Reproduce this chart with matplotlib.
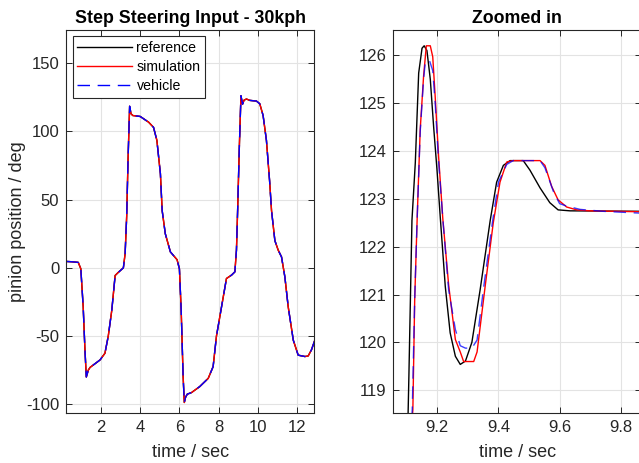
import matplotlib
matplotlib.use("Agg")
import matplotlib.pyplot as plt

# overview (left panel)
t_all = [0.23, 0.5, 0.84, 0.97, 1.09, 1.18, 1.25, 1.35, 1.44, 1.95, 2.2, 2.37, 2.55, 2.72,
         2.89, 3.14, 3.23, 3.31, 3.38, 3.46, 3.53, 3.62, 4.0, 4.43, 4.68, 4.85, 5.03, 5.12,
         5.28, 5.54, 5.88, 6.0, 6.09, 6.19, 6.25, 6.31, 6.4, 6.62, 7.04, 7.47, 7.72, 7.89,
         8.15, 8.4, 8.66, 8.83, 8.91, 8.97, 9.06, 9.14, 9.22, 9.3, 9.42, 9.59, 9.93, 10.1,
         10.27, 10.44, 10.6, 10.7, 10.87, 11.04, 11.21, 11.38, 11.55, 11.81, 12.06, 12.4,
         12.57, 12.74, 12.91]
ref_all = [4.7, 4.5, 4.0, -0.7, -28.5, -60, -80, -75, -73, -67.5, -62.6, -50, -31, -5.6,
           -3.2, 0, 10.5, 38, 80, 118.5, 113, 111.7, 111, 106.8, 103, 93.5, 69, 42,
           25, 11.7, 6, -0.7, -31, -80, -98.7, -95, -92.6, -91.4, -87, -81, -72.4, -50,
           -28.5, -7.8, -5.3, -2.9, 13, 42, 90, 126.2, 120, 123, 123.8, 122.8, 122.3, 120.3,
           111.7, 93.4, 64, 42, 20, 13, 8, -6.6, -28.5, -53, -64, -65,
           -64.6, -60, -53]
sim_all = ref_all
veh_all = ref_all

# zoomed window (right panel)
t_ref = [9.104, 9.107, 9.117, 9.128, 9.139, 9.15, 9.157, 9.166, 9.177, 9.188, 9.199, 9.21,
         9.226, 9.242, 9.259, 9.275, 9.292, 9.313, 9.34, 9.373, 9.394, 9.416, 9.438, 9.481,
         9.503, 9.536, 9.568, 9.595, 9.634, 9.87]
ref_zoom = [118.4, 119.3, 122.55, 123.76, 125.63, 126.15, 126.2, 126.1, 125.5, 124.5, 123.6,
            122.58, 121.17, 120.2, 119.71, 119.54, 119.61, 120.0, 121.1, 122.55, 123.35,
            123.7, 123.8, 123.8, 123.6, 123.23, 122.92, 122.77, 122.75, 122.74]

t_sim = [9.118, 9.12, 9.126, 9.134, 9.144, 9.155, 9.164, 9.177, 9.185, 9.193, 9.204, 9.218,
         9.237, 9.259, 9.275, 9.286, 9.319, 9.33, 9.357, 9.383, 9.405, 9.427, 9.448, 9.47,
         9.536, 9.552, 9.574, 9.595, 9.623, 9.656, 9.699, 9.87]
sim_zoom = [118.4, 118.6, 120.9, 122.58, 124.45, 125.56, 126.2, 126.2, 125.97, 125.14,
            123.9, 122.58, 121.2, 120.06, 119.8, 119.6, 119.6, 119.8, 121.2, 122.5, 123.35,
            123.77, 123.8, 123.8, 123.8, 123.7, 123.26, 122.98, 122.83, 122.77, 122.75,
            122.73]

t_veh = [9.116, 9.118, 9.126, 9.134, 9.144, 9.155, 9.161, 9.175, 9.185, 9.193, 9.204, 9.218,
         9.237, 9.259, 9.275, 9.292, 9.313, 9.33, 9.352, 9.38, 9.40, 9.427, 9.448, 9.536,
         9.552, 9.58, 9.6, 9.623, 9.667, 9.743, 9.87]
veh_zoom = [118.4, 118.6, 120.9, 122.58, 124.4, 125.5, 125.88, 125.88, 125.68, 125.0,
            123.8, 122.58, 121.1, 120.27, 119.93, 119.88, 119.88, 120.05, 121.17, 122.5,
            123.35, 123.72, 123.8, 123.8, 123.65, 123.15, 122.9, 122.85, 122.78, 122.74,
            122.7]

labels = ["reference", "simulation", "vehicle"]

plt.rcParams["font.family"] = ["Liberation Sans", "DejaVu Sans"]
plt.rcParams["axes.unicode_minus"] = False
plt.rcParams["xtick.direction"] = "in"
plt.rcParams["ytick.direction"] = "in"

dark = "#262626"
fig = plt.figure(figsize=(6.39, 4.63), dpi=100)
ax1 = fig.add_axes([0.1038, 0.1086, 0.388, 0.8266])
ax2 = fig.add_axes([0.6155, 0.1086, 0.388, 0.8266])


def style(ax):
    ax.grid(True, color="#e3e3e3", linewidth=0.8)
    ax.set_axisbelow(True)
    for s in ax.spines.values():
        s.set_color(dark)
        s.set_linewidth(0.8)
    ax.tick_params(colors=dark, labelsize=12, length=4, width=0.7,
                   top=True, right=True, pad=5)


lw = 1.0
ax1.plot(t_all, ref_all, color="k", lw=lw, label=labels[0])
ax1.plot(t_all, sim_all, color="r", lw=lw, label=labels[1])
ax1.plot(t_all, veh_all, color="b", lw=lw, ls="--", dashes=(9, 5.5), label=labels[2])
ax1.set_xlim(0.23, 12.88)
ax1.set_ylim(-106.2, 174.4)
ax1.set_xticks([2, 4, 6, 8, 10, 12])
ax1.set_yticks([-100, -50, 0, 50, 100, 150])
style(ax1)
ax1.set_title("Step Steering Input - 30kph", fontsize=12.8, fontweight="bold", pad=5)
ax1.set_xlabel("time / sec", fontsize=13, color=dark, labelpad=7)
ax1.set_ylabel("pinion position / deg", fontsize=13, color=dark, labelpad=0)
leg = ax1.legend(loc="upper left", fontsize=10.2, handlelength=3.9, fancybox=False,
                 framealpha=1, borderaxespad=0.45, handletextpad=0.3, labelspacing=0.38,
                 borderpad=0.3)
leg.get_frame().set_edgecolor(dark)
leg.get_frame().set_linewidth(0.8)

ax2.plot(t_ref, ref_zoom, color="k", lw=lw)
ax2.plot(t_sim, sim_zoom, color="r", lw=lw)
ax2.plot(t_veh, veh_zoom, color="b", lw=lw, ls="--", dashes=(9, 5.5), alpha=0.75)
ax2.set_xlim(9.056, 9.867)
ax2.set_ylim(118.53, 126.53)
ax2.set_xticks([9.2, 9.4, 9.6, 9.8])
ax2.set_yticks([119, 120, 121, 122, 123, 124, 125, 126])
style(ax2)
ax2.set_title("Zoomed in", fontsize=12.8, fontweight="bold", pad=5)
ax2.set_xlabel("time / sec", fontsize=13, color=dark, labelpad=7)

fig.savefig("out.png", dpi=100)
